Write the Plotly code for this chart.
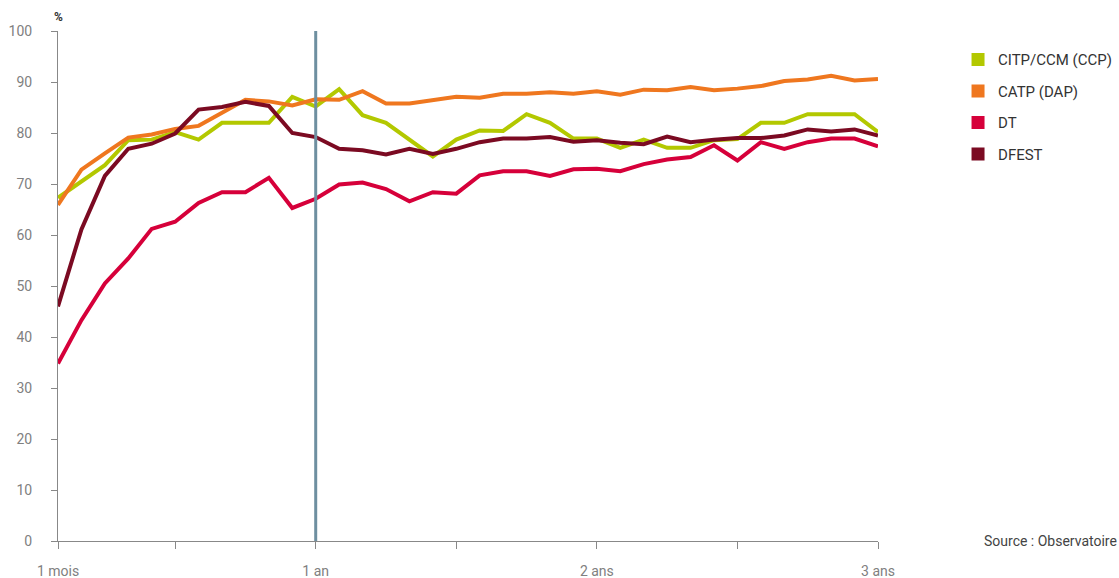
import plotly.graph_objects as go

months = list(range(1, 37))

citp = [67.3, 70.4, 73.7, 78.6, 78.7, 80.2, 78.7, 82.0, 82.0, 82.0, 87.1, 85.2,
        88.6, 83.5, 82.0, 78.8, 75.4, 78.7, 80.5, 80.4, 83.7, 82.0, 78.9, 78.9,
        77.1, 78.7, 77.1, 77.1, 78.6, 78.8, 82.0, 82.0, 83.7, 83.7, 83.7, 80.2]
catp = [65.9, 72.8, 76.0, 79.1, 79.7, 80.8, 81.4, 83.9, 86.5, 86.2, 85.4, 86.6,
        86.5, 88.2, 85.8, 85.8, 86.4, 87.1, 86.9, 87.7, 87.7, 88.0, 87.7, 88.2,
        87.5, 88.5, 88.4, 89.0, 88.4, 88.7, 89.2, 90.2, 90.5, 91.2, 90.3, 90.6]
dt = [34.8, 43.3, 50.5, 55.4, 61.2, 62.6, 66.3, 68.4, 68.4, 71.2, 65.3, 67.1,
      69.9, 70.3, 69.0, 66.6, 68.4, 68.1, 71.7, 72.5, 72.5, 71.6, 72.9, 73.0,
      72.5, 73.9, 74.8, 75.3, 77.6, 74.6, 78.2, 76.9, 78.2, 78.9, 78.9, 77.4]
dfest = [46.0, 61.1, 71.6, 76.9, 77.9, 79.9, 84.6, 85.1, 86.1, 85.3, 80.0, 79.2,
         76.9, 76.6, 75.8, 76.9, 75.9, 76.9, 78.2, 78.9, 78.9, 79.2, 78.3, 78.6,
         78.1, 77.8, 79.3, 78.2, 78.7, 79.0, 79.0, 79.5, 80.7, 80.3, 80.7, 79.5]

series_names = ["CITP/CCM (CCP)", "CATP (DAP)", "DT", "DFEST"]
series_values = [citp, catp, dt, dfest]
series_colors = ["#b3c800", "#ef771f", "#d6003a", "#7b0a22"]

x_tickvals = [1, 6, 12, 18, 24, 30, 36]
x_ticktext = ["1 mois", "", "1 an", "", "2 ans", "", "3 ans"]
y_tickvals = list(range(0, 101, 10))
marker_month = 12

FONT = "Roboto, Liberation Sans, sans-serif"

fig = go.Figure()
for name, vals, col in zip(series_names, series_values, series_colors):
    fig.add_trace(go.Scatter(x=months, y=vals, mode="lines", name=name,
                             line=dict(color=col, width=4), showlegend=False,
                             hoverinfo="skip"))
for i, (name, col) in enumerate(zip(series_names, series_colors)):
    fig.add_trace(go.Scatter(x=[None], y=[None], mode="markers", name=name,
                             marker=dict(symbol="square", size=13, color=col),
                             legendgroup=f"g{i}", showlegend=True))

fig.add_shape(type="line", x0=marker_month, x1=marker_month, y0=0, y1=100,
              xref="x", yref="y", line=dict(color="#6e8fa0", width=3), layer="above")

fig.add_annotation(text="<b>%</b>", x=0, xref="paper", y=1.027, yref="paper",
                   showarrow=False, xanchor="center", yanchor="middle",
                   font=dict(family=FONT, size=12, color="#333333"))
fig.add_annotation(text="Source : Observatoire", x=1.1268, xref="paper", y=0,
                   yref="paper", showarrow=False, xanchor="left", yanchor="middle",
                   font=dict(family=FONT, size=14, color="#444444"))

fig.update_layout(
    width=1119, height=578,
    margin=dict(l=58, r=241, t=31, b=37, autoexpand=False),
    paper_bgcolor="white", plot_bgcolor="white",
    font=dict(family=FONT, color="#808080", size=14),
    legend=dict(x=1.0976, y=0.976, xanchor="left", yanchor="top",
                traceorder="grouped", tracegroupgap=9,
                font=dict(family=FONT, size=15, color="#333333"),
                bgcolor="rgba(0,0,0,0)"),
    xaxis=dict(range=[1, 36], tickvals=x_tickvals, ticktext=x_ticktext,
               showgrid=False, zeroline=False, showline=True, linecolor="#888888",
               linewidth=1, ticks="outside", ticklen=7, tickcolor="#888888",
               ticklabelstandoff=10, automargin=False,
               tickfont=dict(size=14, color="#808080")),
    yaxis=dict(range=[0, 100], tickvals=y_tickvals, showgrid=False, zeroline=False,
               showline=True, linecolor="#888888", linewidth=1, ticks="outside",
               ticklen=6, tickcolor="#888888", ticklabelstandoff=16, automargin=False,
               tickfont=dict(size=14, color="#808080")),
)

# remove the browser's default page margin so the figure fills the window exactly
fig.write_html("out.html", config={"displayModeBar": False},
               post_script="document.body.style.margin='0';document.body.style.overflow='hidden';")
